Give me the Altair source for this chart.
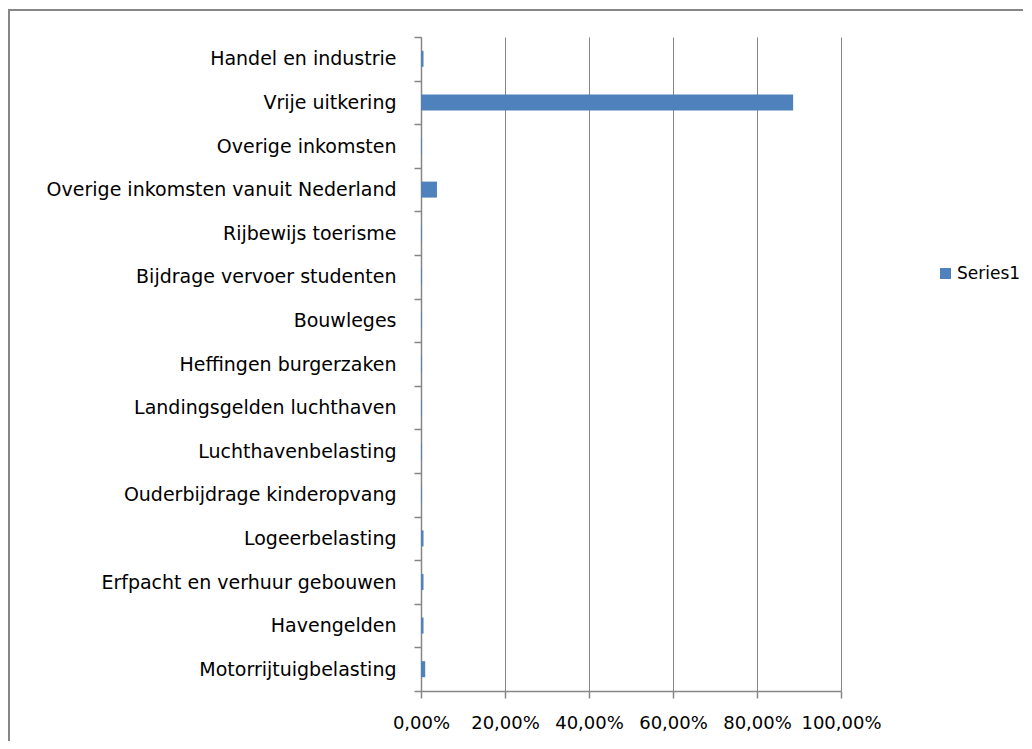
import altair as alt
import pandas as pd

categories = [
    "Handel en industrie",
    "Vrije uitkering",
    "Overige inkomsten",
    "Overige inkomsten vanuit Nederland",
    "Rijbewijs toerisme",
    "Bijdrage vervoer studenten",
    "Bouwleges",
    "Heffingen burgerzaken",
    "Landingsgelden luchthaven",
    "Luchthavenbelasting",
    "Ouderbijdrage kinderopvang",
    "Logeerbelasting",
    "Erfpacht en verhuur gebouwen",
    "Havengelden",
    "Motorrijtuigbelasting",
]
values = [0.006, 0.886, 0.002, 0.038, 0.002, 0.002, 0.002, 0.002, 0.002, 0.002, 0.002, 0.006, 0.006, 0.006, 0.010]
series = ["Series1"] * len(categories)

df = pd.DataFrame({"category": categories, "value": values, "series": series})

GREY = "#868686"
FONT = "DejaVu Sans"

bars = alt.Chart(df).mark_bar(height=16, color="#4F81BD").encode(
    y=alt.Y(
        "category:N",
        sort=categories,
        scale=alt.Scale(paddingInner=0, paddingOuter=0),
        axis=alt.Axis(
            title=None,
            tickBand="extent",
            ticks=True,
            tickSize=7,
            tickColor=GREY,
            tickWidth=1.5,
            domainColor=GREY,
            domainWidth=1.5,
            labelFont=FONT,
            labelFontSize=19,
            labelColor="#000000",
            labelPadding=18,
            labelLimit=420,
            labelOverlap=False,
            grid=False,
        ),
    ),
    x=alt.X(
        "value:Q",
        scale=alt.Scale(domain=[0, 1], nice=False),
        axis=alt.Axis(
            title=None,
            values=[0, 0.2, 0.4, 0.6, 0.8, 1.0],
            labelExpr="replace(format(datum.value, '.2%'), '.', ',')",
            labelOverlap=False,
            labelFlush=False,
            tickSize=7,
            tickColor=GREY,
            tickWidth=1.5,
            domainColor=GREY,
            domainWidth=1.5,
            gridColor=GREY,
            gridWidth=1,
            labelFont=FONT,
            labelFontSize=18,
            labelColor="#000000",
            labelPadding=16,
        ),
    ),
    color=alt.Color(
        "series:N",
        scale=alt.Scale(range=["#4F81BD"]),
        legend=alt.Legend(
            title=None,
            orient="none",
            legendX=516,
            legendY=228,
            symbolType="square",
            symbolSize=121,
            symbolStrokeWidth=0,
            labelFont=FONT,
            labelFontSize=17,
            labelColor="#000000",
            labelOffset=3,
        ),
    ),
)

border = alt.Chart(df).mark_rect(
    fill=None, stroke=GREY, strokeWidth=2, clip=False
).encode(
    x=alt.value(-412), x2=alt.value(640),
    y=alt.value(-27), y2=alt.value(760),
)

chart = alt.layer(border, bars).properties(
    width=420,
    height=654,
    autosize=alt.AutoSizeParams(type="none"),
    padding={"left": 413, "top": 29, "right": 182, "bottom": 50},
).configure_view(stroke=None)

chart.save("out.html", embed_options={"renderer": "svg", "actions": False})
